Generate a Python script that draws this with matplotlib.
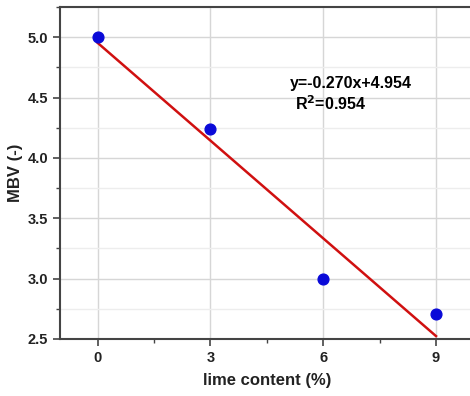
import numpy as np
import matplotlib
matplotlib.use("Agg")
import matplotlib.pyplot as plt
from matplotlib.ticker import MultipleLocator

# Measured data
lime_content = [0, 3, 6, 9]
mbv = [5.00, 4.24, 3.00, 2.71]

# Linear fit parameters
slope = -0.270
intercept = 4.954
r_squared = 0.954

plt.rcParams['font.family'] = ['Liberation Sans', 'DejaVu Sans']

fig = plt.figure(figsize=(4.7, 3.96), dpi=100)
ax = fig.add_axes([0.1277, 0.144, 0.88, 0.838])

ax.set_xlim(-1, 10)
ax.set_ylim(2.5, 5.25)

ax.xaxis.set_major_locator(MultipleLocator(3))
ax.xaxis.set_minor_locator(MultipleLocator(1.5))
ax.yaxis.set_major_locator(MultipleLocator(0.5))
ax.yaxis.set_minor_locator(MultipleLocator(0.25))

ax.grid(which='major', color='#d6d6d6', linewidth=1.0)
ax.grid(which='minor', axis='y', color='#ededed', linewidth=1.0)
ax.set_axisbelow(True)

fit_x = np.array([lime_content[0], lime_content[-1]])
fit_y = slope * fit_x + intercept
ax.plot(fit_x, fit_y, color='#d01010', linewidth=1.8, zorder=2)
ax.scatter(lime_content, mbv, s=60, color='#0a0ad8', zorder=3, clip_on=False)

ax.text(5.1, 4.62, f'y={slope:.3f}x+{intercept:.3f}', fontsize=11.5, fontweight='bold',
        ha='left', va='center')
ax.text(5.25, 4.45, f'R$^\\mathbf{{2}}$={r_squared:.3f}', fontsize=11.5, fontweight='bold',
        ha='left', va='center')

for side in ['left', 'bottom', 'top']:
    ax.spines[side].set_color('#444444')
    ax.spines[side].set_linewidth(1.5)
ax.spines['right'].set_visible(False)

ax.tick_params(which='major', direction='out', length=5, width=1.2, color='#444444', labelsize=10.5)
ax.tick_params(which='minor', direction='out', length=3, width=1.0, color='#444444')
ax.tick_params(top=False, which='both')

ax.set_xticks([0, 3, 6, 9])
ax.set_xticklabels(['0', '3', '6', '9'], fontweight='bold', color='#222222')
ax.set_yticks([2.5, 3.0, 3.5, 4.0, 4.5, 5.0])
ax.set_yticklabels(['2.5', '3.0', '3.5', '4.0', '4.5', '5.0'], fontweight='bold', color='#222222')

ax.set_xlabel('lime content (%)', fontsize=12, fontweight='bold', color='#222222', labelpad=6)
ax.set_ylabel('MBV (-)', fontsize=12, fontweight='bold', color='#222222', labelpad=3)

fig.savefig('out.png', dpi=100)
